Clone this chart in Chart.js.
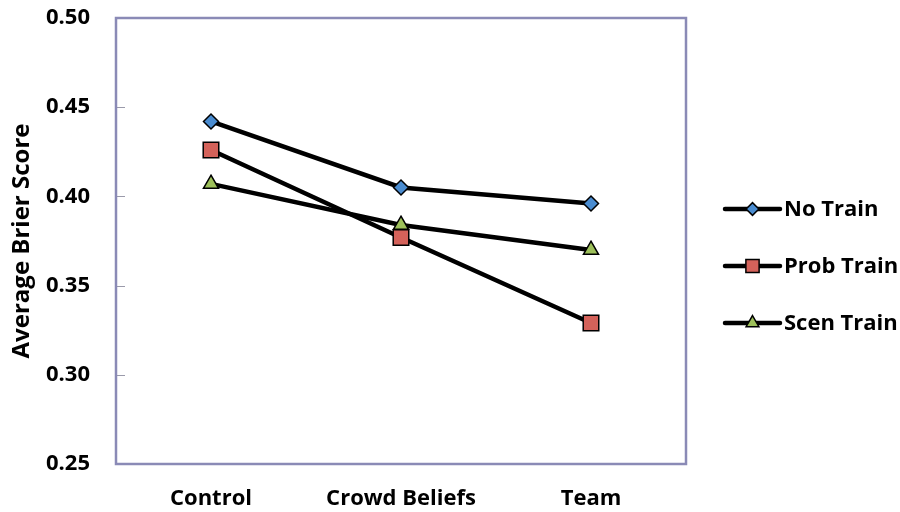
<!DOCTYPE html>
<html>
<head>
<meta charset="utf-8">
<script src="https://cdn.jsdelivr.net/npm/chart.js@4.4.1/dist/chart.umd.min.js"></script>
<style>
  html, body { margin: 0; padding: 0; background: #ffffff; }
  #wrap { width: 900px; height: 512px; }
</style>
</head>
<body>
<div id="wrap"><canvas id="c" width="900" height="512"></canvas></div>
<script>
// Category labels and average Brier scores per training condition
const categories = ['Control', 'Crowd Beliefs', 'Team'];
const noTrain   = [0.442, 0.405, 0.396];
const probTrain = [0.426, 0.377, 0.329];
const scenTrain = [0.407, 0.384, 0.370];
const seriesNames = ['No Train', 'Prob Train', 'Scen Train'];
const yTicks = [0.25, 0.30, 0.35, 0.40, 0.45, 0.50];

const FONT = "'Open Sans', 'Noto Sans', sans-serif";
const BOX = '#8A8AB6';

function series(label, data, style, radius, fill) {
  return {
    label, data,
    borderColor: '#000000',
    borderWidth: 4.5,
    pointStyle: style,
    pointRadius: radius,
    pointHoverRadius: radius,
    pointBackgroundColor: fill,
    pointBorderColor: '#000000',
    pointBorderWidth: 1.5,
    tension: 0,
    fill: false
  };
}

// Frame around the plot area plus inward tick marks on the value axis
const frame = {
  id: 'frame',
  beforeDatasetsDraw(chart) {
    const { ctx, chartArea: a } = chart;
    const y = chart.scales.y;
    ctx.save();
    ctx.strokeStyle = '#9a9aaa';
    ctx.lineWidth = 1;
    yTicks.forEach(v => {
      const py = Math.round(y.getPixelForValue(v)) + 0.5;
      ctx.beginPath();
      ctx.moveTo(a.left, py);
      ctx.lineTo(a.left + 9, py);
      ctx.stroke();
    });
    ctx.strokeStyle = BOX;
    ctx.lineWidth = 2.5;
    ctx.strokeRect(a.left, a.top, a.right - a.left, a.bottom - a.top);
    ctx.restore();
  }
};

// Legend on the right: a line sample with the series marker in its middle
const sideLegend = {
  id: 'sideLegend',
  afterDraw(chart) {
    const { ctx } = chart;
    const x0 = 725, x1 = 780, top = 209, step = 57;
    ctx.save();
    chart.data.datasets.forEach((ds, i) => {
      const yy = top + i * step;
      ctx.strokeStyle = ds.borderColor;
      ctx.lineWidth = ds.borderWidth;
      ctx.lineCap = 'round';
      ctx.beginPath();
      ctx.moveTo(x0, yy);
      ctx.lineTo(x1, yy);
      ctx.stroke();
      ctx.fillStyle = ds.pointBackgroundColor;
      ctx.strokeStyle = ds.pointBorderColor;
      ctx.lineWidth = ds.pointBorderWidth;
      Chart.helpers.drawPoint(ctx, {
        pointStyle: ds.pointStyle,
        radius: ds.pointRadius * 0.85,
        rotation: 0,
        borderWidth: ds.pointBorderWidth
      }, (x0 + x1) / 2, yy);
      ctx.fillStyle = '#000000';
      ctx.font = 'bold 22px ' + FONT;
      ctx.textAlign = 'left';
      ctx.textBaseline = 'middle';
      ctx.fillText(ds.label, x1 + 4, yy + 1);
    });
    ctx.restore();
  }
};

new Chart(document.getElementById('c'), {
  type: 'line',
  data: {
    labels: categories,
    datasets: [
      series(seriesNames[0], noTrain, 'rectRot', 7.5, '#4A8CD0'),
      series(seriesNames[1], probTrain, 'rect', 11, '#D4625A'),
      series(seriesNames[2], scenTrain, 'triangle', 8.7, '#9DC05A')
    ]
  },
  options: {
    responsive: false,
    devicePixelRatio: 1,
    animation: false,
    layout: { padding: { top: 18, right: 214, left: 0, bottom: 0 } },
    plugins: { legend: { display: false }, tooltip: { enabled: false } },
    scales: {
      x: {
        type: 'category',
        offset: true,
        grid: { display: false, drawTicks: false },
        border: { display: false },
        ticks: { color: '#000', padding: 22, font: { family: FONT, size: 22, weight: 'bold' } },
        afterFit(s) { s.height = 48; }
      },
      y: {
        min: 0.25,
        max: 0.50,
        afterBuildTicks(s) { s.ticks = yTicks.map(v => ({ value: v })); },
        grid: { display: false, drawTicks: false },
        border: { display: false },
        ticks: {
          color: '#000', padding: 26,
          font: { family: FONT, size: 22, weight: 'bold' },
          callback: v => Number(v).toFixed(2)
        },
        title: {
          display: true,
          text: 'Average Brier Score',
          color: '#000',
          padding: { top: 8, bottom: 0 },
          font: { family: FONT, size: 24, weight: 'bold' }
        },
        afterFit(s) {
          s.width = 116;
          s.paddingTop = 0;
          s.paddingBottom = 0;
        }
      }
    }
  },
  plugins: [frame, sideLegend]
});
</script>
</body>
</html>
